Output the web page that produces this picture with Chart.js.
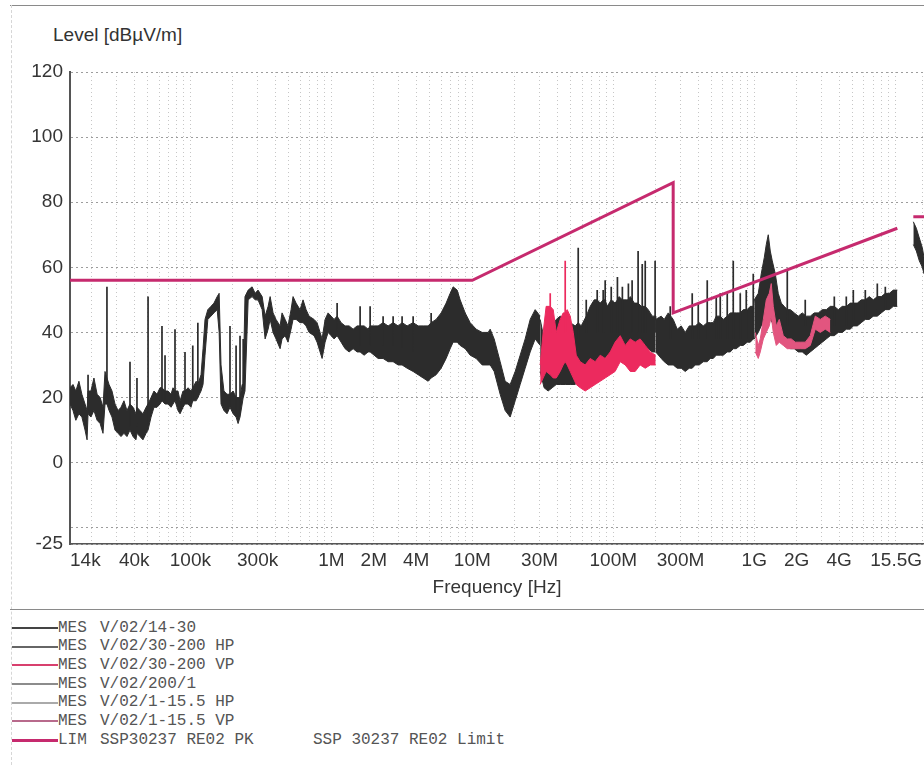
<!DOCTYPE html>
<html>
<head>
<meta charset="utf-8">
<title>Level [dBµV/m]</title>
<script src="https://cdn.jsdelivr.net/npm/chart.js@4.4.0/dist/chart.umd.min.js"></script>
<style>
  body{margin:0;background:#fff;}
  #page{position:relative;width:924px;height:765px;overflow:hidden;background:#fff;font-family:"Liberation Sans",Arial,sans-serif;}
  .hrule{position:absolute;left:10px;right:0;height:0;border-top:1.5px solid #8a8a8a;}
  #vrule{position:absolute;left:11px;top:5px;bottom:0;border-left:1px dashed #d6d6d6;}
  #ytitle{position:absolute;left:53px;top:24px;font-size:19px;line-height:22px;color:#333;}
  #wrap{position:absolute;left:0;top:0;width:924px;height:605px;}
  #legend{position:absolute;left:0;top:618.6px;width:924px;font-family:"Courier New","Liberation Mono",monospace;font-size:16px;color:#555;}
  .row{position:relative;height:18.7px;line-height:18.7px;white-space:pre;}
  .row .ln{position:absolute;left:12px;width:46px;top:50%;height:0;}
  .row .tag{position:absolute;left:58px;}
  .row .nm{position:absolute;left:100px;}
  .row .note{position:absolute;left:313px;}
</style>
</head>
<body>
<div id="page">
  <div class="hrule" style="top:5px"></div>
  <div id="vrule"></div>
  <div id="ytitle">Level [dBµV/m]</div>
  <div id="wrap"><canvas id="emi"></canvas></div>
  <div class="hrule" style="top:609px"></div>
  <div id="legend"></div>
</div>
<script>
// ---- axis ticks
const xTickValues = [14e3, 4e4, 1e5, 3e5, 1e6, 2e6, 4e6, 1e7, 3e7, 1e8, 3e8, 1e9, 2e9, 4e9, 15.5e9];
const xTickText = ['14k','40k','100k','300k','1M','2M','4M','10M','30M','100M','300M','1G','2G','4G','15.5G'];
const yTickValues = [-25, -20, 0, 20, 40, 60, 80, 100, 120];

// ---- MES V/02/14-30  (upper / lower edge of the trace, spikes separate)
const freqA = [14.0e3,14.7e3,15.4e3,16.2e3,17.0e3,17.9e3,18.5e3,18.8e3,19.7e3,20.7e3,
  21.8e3,22.9e3,24.0e3,24.8e3,25.6e3,26.5e3,27.8e3,29.2e3,30.7e3,32.2e3,
  33.8e3,35.5e3,37.3e3,39.2e3,41.1e3,41.8e3,43.9e3,46.1e3,48.5e3,50.1e3,
  52.6e3,55.2e3,58.0e3,60.9e3,62.9e3,66.1e3,69.4e3,72.9e3,75.3e3,77.8e3,
  81.7e3,84.5e3,88.7e3,91.6e3,96.3e3,101e3,104e3,110e3,113e3,119e3,
  123e3,127e3,133e3,140e3,147e3,155e3,160e3,165e3,173e3,182e3,
  191e3,201e3,211e3,218e3,225e3,233e3,237e3,244e3,257e3,274e3,
  288e3,302e3,323e3,339e3,356e3,368e3,386e3,405e3,433e3,447e3,
  470e3,493e3,518e3,535e3,562e3,600e3,630e3,662e3,695e3,754e3,
  792e3,832e3,860e3,903e3,948e3,996e3,1.046e6,1.099e6,1.173e6,1.252e6,
  1.337e6,1.427e6,1.524e6,1.600e6,1.708e6,1.823e6,1.884e6,2.011e6,2.147e6,2.329e6,
  2.528e6,2.743e6,2.977e6,3.176e6,3.448e6,3.804e6,4.128e6,4.479e6,4.860e6,5.105e6,
  5.539e6,6.011e6,6.522e6,6.963e6,7.313e6,7.806e6,8.199e6,8.897e6,9.654e6,10.65e6,
  11.75e6,12.96e6,13.39e6,14.29e6,15.76e6,17.10e6,18.56e6,20.14e6,21.85e6,23.71e6,
  25.73e6,27.92e6,30.30e6];
const hiA = [23,24,22,25,21,18,16,22,22,26,
  21,20,17,28,26,24,22,18,16,17,
  19,16,18,17,15,17,16,15,17,18,
  20,22,21,23,23,22,22,21,23,22,
  22,19,22,22,23,22,23,25,24,27,
  35,44,47,48,49,51,52,30,22,21,
  21,22,20,20,20,24,24,51,53,54,
  52,53,51,45,48,51,46,44,42,46,
  44,42,47,51,49,47,50,47,45,44,
  43,40,38,44,46,45,44,45,43,42,
  42,41,42,42,42,41,42,42,42,43,
  42,43,42,43,42,43,42,42,42,43,
  44,46,49,52,54,53,50,46,43,41,
  40,40,41,38,31,25,24,28,33,38,
  44,47,45];
const loA = [18,16,13,15,14,10,7,15,14,16,
  13,12,9,18,18,16,14,10,9,8,
  9,8,10,8,7,9,8,7,9,10,
  14,17,17,18,19,18,18,17,18,19,
  16,15,17,18,18,17,19,19,20,22,
  24,33,44,45,46,47,40,18,16,15,
  17,15,14,12,14,18,20,22,50,51,
  50,50,47,38,41,44,40,38,35,38,
  39,37,41,44,44,43,43,42,40,39,
  37,34,32,37,40,39,38,39,37,35,
  34,35,34,34,33,34,34,33,32,32,
  31,31,30,30,29,28,27,26,25,26,
  27,29,32,35,37,37,36,35,33,32,
  30,30,30,28,21,16,14,19,24,29,
  34,38,36];
const spikeFreqA = [18.8e3,25.6e3,37.3e3,41.8e3,50.1e3,62.9e3,66.1e3,77.8e3,91.6e3,104e3,
  113e3,191e3,211e3,225e3,237e3,1.099e6,1.600e6,1.884e6,2.329e6,2.743e6,
  3.176e6,3.804e6,5.105e6];
const spikeTopA = [27,54,31,26,51,42,33,41,34,36,
  43,42,36,39,38,49,48,48,45,45,
  45,45,46];
const spikeBaseA = [16,20,11,10,12,19,19,19,18,19,
  20,17,15,15,20,40,36,36,36,36,
  35,34,34];

// ---- MES V/02/30-200 HP
const freqB = [30.3e6,32.3e6,34.5e6,36.9e6,39.4e6,42.0e6,45.6e6,49.5e6,53.7e6,56.4e6,
  59.2e6,64.3e6,68.6e6,73.2e6,76.9e6,80.8e6,84.8e6,87.6e6,90.6e6,96.7e6,
  103e6,107e6,110e6,116e6,124e6,128e6,132e6,141e6,150e6,158e6,
  160.5e6,168.5e6,177e6,189e6,198e6,200e6];
const hiB = [44,38,40,42,44,45,44,43,42,43,
  42,45,48,50,50,49,50,50,48,50,
  49,50,51,50,50,50,51,49,49,48,
  48,48,47,45,45,44];
const loB = [28,23,22,23,24,24,24,24,24,25,
  26,28,30,31,31,32,32,32,33,33,
  33,33,34,34,35,35,35,36,36,36,
  36,35,35,34,34,34];
const spikeFreqB = [56.4e6,64.3e6,76.9e6,84.8e6,87.6e6,96.7e6,107e6,116e6,128e6,136e6,
  150e6,160.5e6,168.5e6,198e6];
const spikeTopB = [66,50,53,53,56,54,57,54,55,56,
  65,61,62,62];
const spikeBaseB = [38,40,40,40,40,40,40,40,40,40,
  40,40,40,40];

// ---- MES V/02/30-200 VP
const freqC = [30.3e6,31.8e6,33.4e6,35.7e6,37.5e6,39.4e6,42.0e6,44.1e6,45.6e6,47.1e6,
  49.5e6,52.0e6,54.6e6,58.3e6,63.2e6,68.6e6,74.4e6,80.8e6,87.6e6,95.1e6,
  103e6,112e6,121.5e6,132e6,143e6,155e6,168.5e6,183e6,200e6];
const hiC = [30,40,48,48,47,40,44,46,46,47,
  45,40,33,31,30,32,31,33,32,34,
  37,39,36,38,37,38,36,34,33];
const loC = [24,26,28,27,26,26,28,30,31,30,
  28,26,24,23,22,23,24,25,26,27,
  28,31,30,28,28,30,29,30,30];
const spikeFreqC = [35.7e6,45.6e6];
const spikeTopC = [52,62];
const spikeBaseC = [40,40];

// ---- MES V/02/200/1
const freqD = [200e6,218.8e6,229.8e6,245.4e6,266.2e6,284.2e6,303.4e6,323.9e6,345.8e6,363e6,
  381.4e6,407.2e6,434.7e6,464e6,487.3e6,511.8e6,537.5e6,573.8e6,602.6e6,643.3e6,
  675.7e6,709.6e6,745.3e6,795.6e6,835.5e6,891.9e6,936.8e6,983.8e6,1.0e9];
const hiD = [44,45,44,46,44,41,42,40,42,42,
  42,43,42,43,43,43,45,45,44,45,
  46,46,46,46,47,47,48,48,50];
const loD = [34,32,31,30,30,29,29,28,29,29,
  30,30,31,31,32,32,33,33,33,34,
  34,35,35,36,36,37,37,38,38];
const spikeFreqD = [253.5e6,363e6,400.6e6,464e6,537.5e6,573.8e6,643.3e6,709.6e6,795.6e6,877.6e6,983.8e6];
const spikeTopD = [48,52,49,56,51,52,52,62,52,53,58];
const spikeBaseD = [38,38,38,38,38,38,38,38,38,38,38];

// ---- MES V/02/1-15.5 HP
const freqE = [1.0e9,1.068e9,1.121e9,1.178e9,1.217e9,1.257e9,1.299e9,1.342e9,1.410e9,1.480e9,
  1.555e9,1.633e9,1.715e9,1.801e9,1.923e9,2.052e9,2.191e9,2.339e9,2.497e9,2.666e9,
  2.846e9,3.039e9,3.244e9,3.463e9,3.697e9,3.946e9,4.212e9,4.497e9,4.801e9,5.042e9,
  5.382e9,5.746e9,6.134e9,6.549e9,6.991e9,7.463e9,7.967e9,8.505e9,9.080e9,9.693e9,
  10.35e9,11.8e9,13.44e9,14.12e9,14.82e9,15.57e9,16.0e9];
const hiE = [50,52,58,63,67,70,65,62,58,52,
  49,48,47,47,46,45,46,45,45,46,
  46,47,47,48,48,47,48,48,49,49,
  49,50,50,51,50,51,51,52,52,53,
  53,null,74,72,69,66,63];
const loE = [38,40,42,43,44,45,44,43,41,39,
  37,36,36,35,35,34,34,33,34,35,
  36,37,38,39,39,40,40,41,41,42,
  42,43,44,44,45,45,46,47,47,48,
  48,null,67,65,62,60,58];
const spikeFreqE = [1.715e9,2.3e9,3.697e9,4.497e9,5.042e9,6.134e9,7.463e9,8.505e9];
const spikeTopE = [59,50,51,51,53,53,55,54];
const spikeBaseE = [42,42,42,42,44,45,46,47];

// ---- MES V/02/1-15.5 VP
const freqF = [1.017e9,1.068e9,1.103e9,1.160e9,1.217e9,1.278e9,1.320e9,1.364e9,1.433e9,1.505e9,
  1.607e9,1.715e9,1.831e9,1.954e9,2.121e9,2.302e9,2.497e9,2.710e9,2.941e9,3.191e9,3.463e9];
const hiF = [40,36,38,44,50,52,55,48,42,44,
  39,38,38,37,37,37,39,45,44,45,44];
const loF = [34,32,34,38,40,42,45,40,36,37,
  36,35,35,35,35,35,36,41,40,41,40];

// ---- LIM SSP30237 RE02 PK
const limitFreq = [14e3, 10e6, 266e6, 266e6, 10.35e9, 11.8e9, 13.44e9, 16e9];
const limitLevel = [56, 56, 86, 46, 72, null, 75.5, 75.5];

// ---- legend
const legendTag = ['MES','MES','MES','MES','MES','MES','LIM'];
const legendName = ['V/02/14-30','V/02/30-200 HP','V/02/30-200 VP','V/02/200/1','V/02/1-15.5 HP','V/02/1-15.5 VP','SSP30237 RE02 PK'];
const legendNote = ['','','','','','','SSP 30237 RE02 Limit'];
const legendColor = ['#444444','#666666','#d8406e','#8c8c8c','#aaaaaa','#b86a8c','#c62a6e'];
const legendWidth = [2,2,2,2,2,2,3];

const DARK = '#2c2c2c', VPRED = '#ec2a5e', VPPINK = '#e2557f', LIMC = '#c62a6e';

//------------------------------------------------------------
const legendBox = document.getElementById('legend');
legendTag.forEach((tag,i)=>{
    const row = document.createElement('div');
    row.className = 'row';
    row.innerHTML = `<span class="ln" style="border-top:${legendWidth[i]}px solid ${legendColor[i]};margin-top:${-legendWidth[i]/2}px"></span>`+
        `<span class="tag">${tag}</span><span class="nm">${legendName[i]}</span><span class="note">${legendNote[i]}</span>`;
    legendBox.appendChild(row);
});

//------------------------------------------------------------
const datasets = [];
function pts(fr, lv){ return fr.map((f,i)=>({x:f, y:lv[i]})); }
function band(fr, hi, lo, color, order){
    const i = datasets.length;
    datasets.push({data: pts(fr, lo), borderColor: color, backgroundColor: color, borderWidth: 1, pointRadius: 0, fill: false, order: order});
    datasets.push({data: pts(fr, hi), borderColor: color, backgroundColor: color, borderWidth: 1, pointRadius: 0, fill: i, order: order});
}
// each spike: a vertical stroke from base to top, broken by a null point
function spikes(fr, top, base, color, order){
    const d = [];
    fr.forEach((f,i)=>{ d.push({x:f, y:base[i]}, {x:f, y:top[i]}, {x:f, y:null}); });
    datasets.push({data: d, borderColor: color, borderWidth: 1.7, pointRadius: 0, fill: false, order: order});
}

datasets.push({data: pts(limitFreq, limitLevel), borderColor: LIMC, borderWidth: 3, pointRadius: 0, fill: false, order: 0});
spikes(spikeFreqC, spikeTopC, spikeBaseC, VPRED, 1);
band(freqC, hiC, loC, VPRED, 1);
band(freqF, hiF, loF, VPPINK, 1);
spikes(spikeFreqA, spikeTopA, spikeBaseA, DARK, 2);
spikes(spikeFreqB, spikeTopB, spikeBaseB, DARK, 2);
spikes(spikeFreqD, spikeTopD, spikeBaseD, DARK, 2);
spikes(spikeFreqE, spikeTopE, spikeBaseE, DARK, 2);
band(freqA, hiA, loA, DARK, 2);
band(freqB, hiB, loB, DARK, 2);
band(freqD, hiD, loD, DARK, 2);
band(freqE, hiE, loE, DARK, 2);

// grid positions 1..9 x 10^k between the ends
const xGrid = [14e3];
for(let k=4;k<=10;k++){
    for(let m=1;m<=9;m++){
        const v = m*Math.pow(10,k);
        if(v>14e3 && v<15.5e9) xGrid.push(v);
    }
}
xGrid.push(15.5e9);

Chart.defaults.font.family = '"Liberation Sans", Arial, sans-serif';
Chart.defaults.color = '#353535';

new Chart(document.getElementById('emi'), {
    type: 'line',
    data: { datasets: datasets },
    options: {
        responsive: true,
        maintainAspectRatio: false,
        animation: false,
        normalized: true,
        layout: { padding: { top: 72, left: 0, right: 0, bottom: 0 } },
        plugins: { legend: { display: false }, tooltip: { enabled: false } },
        elements: { line: { tension: 0 } },
        scales: {
            x: {
                type: 'logarithmic',
                min: 14e3,
                max: 16e9,
                afterBuildTicks: (s)=>{ s.ticks = xGrid.map(v=>({value:v})); },
                afterFit: (s)=>{ s.height = 61; s.paddingLeft = 0; s.paddingRight = 0; },
                ticks: {
                    autoSkip: false, maxRotation: 0, minRotation: 0, align: 'inner', padding: 5,
                    font: { size: 19 },
                    callback: (v)=>{
                        const i = xTickValues.findIndex(t=>Math.abs(v/t-1)<1e-9);
                        return i<0 ? '' : xTickText[i];
                    }
                },
                grid: { color: '#c6c6c6', lineWidth: 1, drawTicks: false },
                border: { display: true, color: '#555', width: 1.5, dash: [1,3] },
                title: { display: true, text: 'Frequency [Hz]', font: { size: 19 }, padding: { top: 0, bottom: 6 } }
            },
            y: {
                min: -25,
                max: 120,
                afterBuildTicks: (s)=>{ s.ticks = yTickValues.map(v=>({value:v})); },
                afterFit: (s)=>{ s.width = 70; },
                ticks: {
                    padding: 7,
                    font: { size: 19 },
                    callback: (v)=> v === -20 ? '' : String(v)
                },
                grid: { color: '#9c9c9c', lineWidth: 1, drawTicks: false },
                border: { display: true, color: '#555', width: 2, dash: [2,3] }
            }
        }
    }
});
</script>
</body>
</html>
